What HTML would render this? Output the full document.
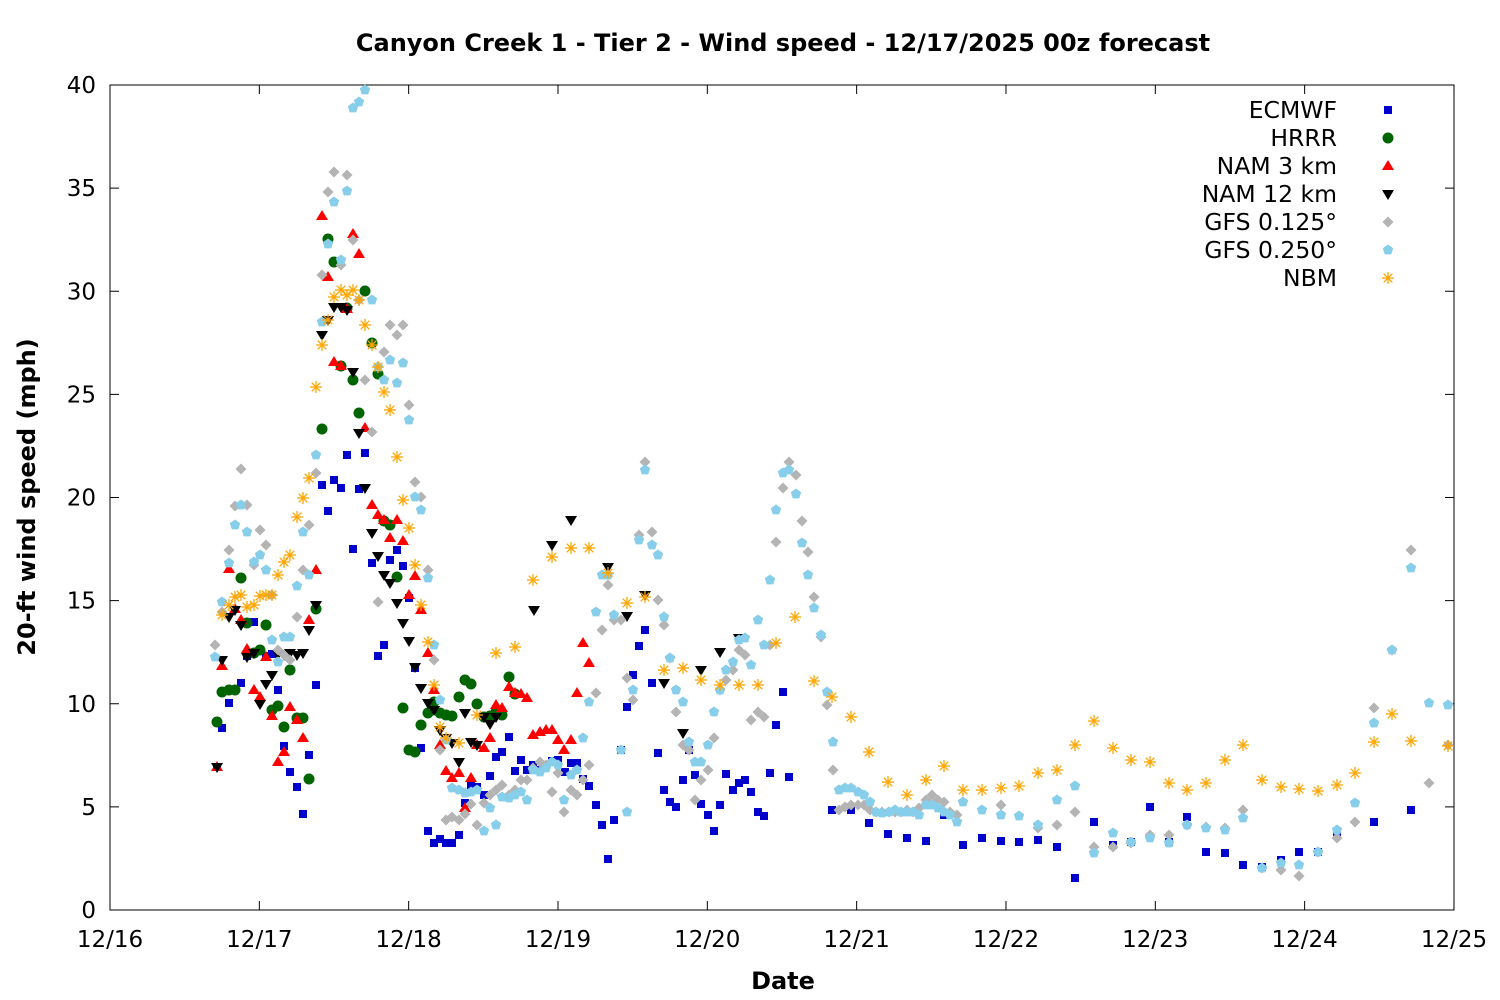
<!DOCTYPE html><html><head><meta charset="utf-8"><style>body{margin:0;background:#fff}svg{display:block;font-family:"DejaVu Sans",sans-serif}</style></head><body>
<svg id="s" width="1500" height="1000" xmlns="http://www.w3.org/2000/svg">
<rect width="1500" height="1000" fill="#fff"/>
<text x="783" y="51" font-size="24" font-weight="bold" text-anchor="middle">Canyon Creek 1 - Tier 2 - Wind speed - 12/17/2025 00z forecast</text>
<text x="783" y="989" font-size="24" font-weight="bold" text-anchor="middle">Date</text>
<text transform="translate(35,497) rotate(-90)" font-size="24" font-weight="bold" text-anchor="middle">20-ft wind speed (mph)</text>
<rect x="110" y="85" width="1344" height="825" fill="none" stroke="#000" stroke-width="1"/>
<g id="ax" stroke="#000" stroke-width="1"></g>
<g id="lab" font-size="23"></g>
<g id="pts"></g>
<g font-size="23.5" text-anchor="end">
<text x="1337" y="118">ECMWF</text><text x="1337" y="146">HRRR</text><text x="1337" y="174">NAM 3 km</text><text x="1337" y="202">NAM 12 km</text><text x="1337" y="230">GFS 0.125°</text><text x="1337" y="258">GFS 0.250°</text><text x="1337" y="286">NBM</text>
</g>
</svg>
<script>
const NS="http://www.w3.org/2000/svg";
function el(p,t,a,txt){const e=document.createElementNS(NS,t);for(const k in a)e.setAttribute(k,a[k]);if(txt!==undefined)e.textContent=txt;p.appendChild(e);return e;}
const ax=document.getElementById('ax'),lab=document.getElementById('lab'),pts=document.getElementById('pts');
for(let v=0;v<=40;v+=5){const y=910-v*20.625;
el(ax,'line',{x1:110,x2:119,y1:y,y2:y});el(ax,'line',{x1:1454,x2:1445,y1:y,y2:y});
el(lab,'text',{x:96,y:y+8,'text-anchor':'end'},String(v));}
const d=['12/16','12/17','12/18','12/19','12/20','12/21','12/22','12/23','12/24','12/25'];
d.forEach((t,i)=>{const x=110+i*149.33;el(ax,'line',{x1:x,x2:x,y1:910,y2:901});el(ax,'line',{x1:x,x2:x,y1:85,y2:94});
el(lab,'text',{x:x,y:947,'text-anchor':'middle'},t);});
function P(s){const a=s.split(/[(),\s]+/).filter(x=>x).map(Number);const r=[];for(let i=0;i+1<a.length;i+=2)r.push([a[i],a[i+1]]);return r;}
function mark(type,x,y){
 if(type==0)el(pts,'rect',{x:x-4,y:y-4,width:8,height:8,fill:'#0000cc'});
 else if(type==1)el(pts,'circle',{cx:x,cy:y,r:5.5,fill:'#006400'});
 else if(type==2)el(pts,'polygon',{points:`${x},${y-6} ${x+6},${y+4} ${x-6},${y+4}`,fill:'#ff0000'});
 else if(type==3)el(pts,'polygon',{points:`${x},${y+6} ${x+6},${y-4} ${x-6},${y-4}`,fill:'#000'});
 else if(type==4)el(pts,'polygon',{points:`${x},${y-5.5} ${x+5.5},${y} ${x},${y+5.5} ${x-5.5},${y}`,fill:'#b4b4b4'});
 else if(type==5){let p=[];for(let k=0;k<5;k++){const a=-Math.PI/2+k*2*Math.PI/5;p.push((x+5.5*Math.cos(a)).toFixed(1)+','+(y+5.5*Math.sin(a)).toFixed(1));}el(pts,'polygon',{points:p.join(' '),fill:'#87ceeb'});}
 else if(type==6){const g=el(pts,'g',{stroke:'#ffa500','stroke-width':1.3});
  el(g,'line',{x1:x-6,x2:x+6,y1:y,y2:y});el(g,'line',{x1:x,x2:x,y1:y-6,y2:y+6});el(g,'line',{x1:x-4.3,x2:x+4.3,y1:y-4.3,y2:y+4.3});el(g,'line',{x1:x-4.3,x2:x+4.3,y1:y+4.3,y2:y-4.3});}
}
const S=[];
S[4]=P("(215,645),(222,612),(229,550),(235,506),(241,469),(247,505),(254,565),(260,530),(266,545),(272,595),(278,650),(284,655),(290,660),(297,617),(303,570),(309,525),(316,473),(322,275),(328,192),(334,172),(341,265),(347,175),(353,240),(359,300),(365,380),(372,432),(378,602),(384,352),(390,325),(397,335),(403,325),(409,405),(415,482),(421,497),(428,570),(434,660),(440,750),(446,820),(452,817),(459,820),(465,814),(471,804),(477,825),(484,803),(490,795),(496,790),(502,785),(509,795),(515,790),(521,780),(527,780),(533,768),(540,762),(546,765),(552,792),(558,773),(564,812),(571,790),(577,795),(583,780),(589,765),(596,693),(602,630),(608,585),(614,620),(621,620),(627,678),(633,700),(639,535),(645,462),(652,532),(658,600),(664,625),(670,658),(676,712),(683,745),(689,750),(695,800),(701,780),(708,770),(714,738),(720,690),(726,680),(733,670),(739,650),(745,655),(751,720),(758,712),(764,717),(770,645),(776,542),(783,488),(789,462),(796,475),(802,521),(808,552),(814,597),(821,637),(827,705),(833,770),(839,810),(845,807),(851,805),(858,805),(864,805),(870,810),(876,812),(882,812),(889,812),(895,812),(901,812),(907,810),(913,812),(919,808),(926,800),(932,795),(938,800),(944,802),(950,812),(957,815),(1001,805),(1038,828),(1057,825),(1075,812),(1094,847),(1113,847),(1131,843),(1150,835),(1169,835),(1187,825),(1206,827),(1225,828),(1243,810),(1262,868),(1281,870),(1299,876),(1318,852),(1337,838),(1355,822),(1374,708),(1392,650),(1411,550),(1429,783),(1448,745)");
S[5]=P("(215,657),(222,602),(229,563),(235,525),(241,505),(247,532),(254,562),(260,555),(266,570),(272,640),(278,662),(284,637),(290,637),(297,586),(303,532),(309,575),(316,455),(322,322),(328,244),(334,202),(341,260),(347,191),(353,108),(359,102),(365,90),(372,300),(378,367),(384,380),(390,360),(397,383),(403,363),(409,420),(415,497),(421,510),(428,578),(434,645),(440,700),(446,740),(452,788),(459,790),(465,793),(471,792),(477,790),(484,831),(490,808),(496,825),(502,797),(509,798),(515,795),(521,792),(527,800),(533,770),(540,772),(546,768),(552,762),(558,765),(564,800),(571,775),(577,770),(583,738),(589,702),(596,612),(602,575),(608,575),(614,615),(621,750),(627,812),(633,690),(639,540),(645,470),(652,545),(658,555),(664,617),(670,658),(676,690),(683,702),(689,742),(695,762),(701,762),(708,745),(714,712),(720,690),(726,670),(733,662),(739,640),(745,638),(751,665),(758,620),(764,645),(770,580),(776,510),(783,473),(789,470),(796,494),(802,543),(808,575),(814,608),(821,635),(827,692),(833,742),(839,790),(845,788),(851,788),(858,792),(864,795),(870,802),(876,812),(882,813),(889,812),(895,810),(901,812),(907,812),(913,812),(919,815),(926,805),(932,805),(938,808),(944,812),(950,815),(957,822),(963,802),(982,810),(1001,815),(1019,816),(1038,825),(1057,800),(1075,786),(1094,853),(1113,833),(1131,842),(1150,838),(1169,843),(1187,825),(1206,828),(1225,830),(1243,818),(1262,868),(1281,863),(1299,865),(1318,852),(1337,830),(1355,803),(1374,723),(1392,650),(1411,568),(1429,703),(1448,705)");
S[6]=P("(222,615),(229,605),(235,597),(241,595),(247,607),(254,605),(260,596),(266,595),(272,595),(278,575),(284,562),(290,555),(297,517),(303,498),(309,478),(316,387),(322,345),(328,320),(334,297),(341,290),(347,295),(353,290),(359,300),(365,325),(372,345),(378,367),(384,392),(390,410),(397,457),(403,500),(409,528),(415,565),(421,605),(428,642),(434,685),(440,727),(446,738),(459,743),(477,715),(496,653),(515,647),(533,580),(552,557),(571,548),(589,548),(608,573),(627,603),(645,597),(664,670),(683,668),(701,680),(720,685),(739,685),(758,685),(776,643),(795,617),(814,681),(832,697),(851,717),(869,752),(888,782),(907,795),(926,780),(944,766),(963,790),(982,790),(1001,788),(1019,786),(1038,773),(1057,770),(1075,745),(1094,721),(1113,748),(1131,760),(1150,762),(1169,783),(1187,790),(1206,783),(1225,760),(1243,745),(1262,780),(1281,787),(1299,789),(1318,791),(1337,785),(1355,773),(1374,742),(1392,714),(1411,741),(1448,746)");
S[0]=P("(217,767),(222,728),(229,703),(235,690),(241,683),(247,656),(254,622),(260,650),(266,656),(272,654),(278,690),(284,746),(290,772),(297,787),(303,814),(309,755),(316,685),(322,485),(328,511),(334,480),(341,488),(347,455),(353,549),(359,489),(365,453),(372,563),(378,656),(384,645),(390,560),(397,550),(403,566),(409,598),(415,668),(421,748),(428,831),(434,843),(440,839),(446,843),(452,843),(459,835),(465,803),(471,786),(477,787),(484,795),(490,776),(496,757),(502,752),(509,737),(515,771),(521,760),(527,770),(533,765),(540,770),(546,765),(552,761),(558,760),(565,772),(571,763),(577,763),(583,779),(589,786),(596,805),(602,825),(608,859),(614,820),(621,750),(627,707),(633,675),(639,646),(645,630),(652,683),(658,753),(664,790),(670,802),(676,807),(683,780),(689,750),(695,775),(701,804),(708,815),(714,831),(720,805),(726,774),(733,790),(739,783),(745,780),(751,792),(758,812),(764,816),(770,773),(776,725),(783,692),(789,777),(832,810),(851,810),(869,823),(888,834),(907,838),(926,841),(944,815),(963,845),(982,838),(1001,841),(1019,842),(1038,840),(1057,847),(1075,878),(1094,822),(1113,845),(1131,842),(1150,807),(1169,842),(1187,817),(1206,852),(1225,853),(1243,865),(1262,867),(1281,860),(1299,852),(1318,852),(1337,832),(1374,822),(1411,810)");
S[1]=P("(217,722),(222,692),(229,690),(235,690),(241,578),(247,623),(254,653),(260,650),(266,625),(272,710),(278,706),(284,727),(290,670),(297,718),(303,718),(309,779),(316,609),(322,429),(328,239),(334,262),(341,366),(347,308),(353,380),(359,413),(365,291),(372,343),(378,374),(384,521),(390,525),(397,577),(403,708),(409,750),(415,752),(421,725),(428,713),(434,702),(440,713),(446,715),(452,716),(459,697),(465,680),(471,684),(477,704),(484,717),(490,716),(496,712),(502,715),(509,677),(515,694)");
S[2]=P("(217,767),(222,666),(229,569),(235,609),(241,620),(247,649),(254,690),(260,697),(266,657),(272,716),(278,762),(284,752),(290,707),(297,720),(303,738),(309,620),(316,570),(322,216),(328,277),(334,362),(341,366),(347,309),(353,234),(359,254),(365,428),(372,505),(378,515),(384,520),(390,538),(397,520),(403,541),(409,595),(415,576),(421,610),(428,653),(434,690),(440,745),(446,771),(452,778),(459,773),(465,808),(471,778),(477,745),(484,748),(490,738),(496,705),(502,708),(509,687),(515,693),(521,694),(527,698),(533,735),(540,732),(546,730),(552,730),(558,740),(564,750),(571,740),(577,693),(583,643),(589,663)");
S[3]=P("(217,767),(222,660),(229,617),(235,610),(241,625),(247,657),(254,653),(260,704),(266,684),(272,675),(278,654),(284,655),(290,653),(297,655),(303,653),(309,630),(316,605),(322,335),(328,320),(334,307),(341,307),(347,310),(353,372),(359,433),(365,488),(372,533),(378,556),(384,575),(390,583),(397,603),(403,623),(409,641),(415,667),(421,688),(428,703),(434,710),(440,730),(446,738),(452,743),(459,762),(465,713),(471,742),(477,745),(484,717),(490,724),(496,717),(534,610),(552,545),(571,520),(608,567),(627,616),(645,595),(664,683),(683,733),(701,670),(720,652),(739,638)");
[0,1,2,3,4,5,6].forEach(t=>S[t].forEach(p=>mark(t,p[0],p[1])));
[110,138,166,194,222,250,278].forEach((y,i)=>mark(i,1388,y));
</script>
</body></html>
